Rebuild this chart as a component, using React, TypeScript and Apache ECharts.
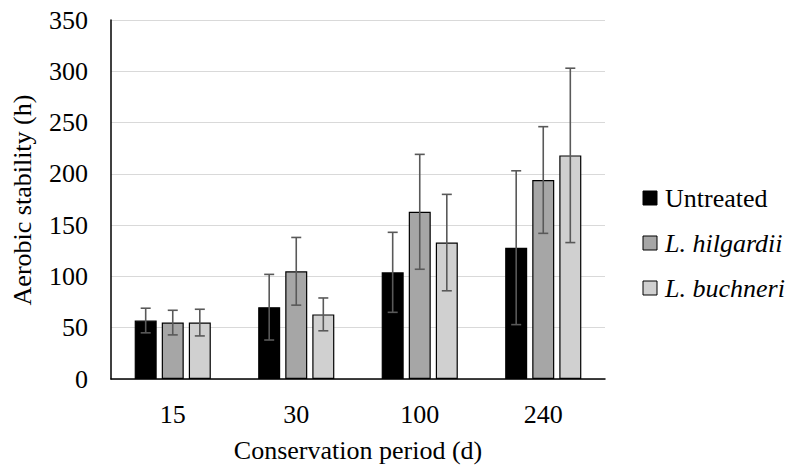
import React, { useEffect, useRef } from "react";
import * as echarts from "echarts";

const categories = ["15", "30", "100", "240"];
const seriesNames = ["Untreated", "L. hilgardii", "L. buchneri"];
const italicNames = [false, true, true];
const untreated = [57, 70, 104, 128];
const untreatedSd = [12, 32, 39, 75];
const hilgardii = [55, 105, 163, 194];
const hilgardiiSd = [12, 33, 56, 52];
const buchneri = [55, 63, 133, 218];
const buchneriSd = [13, 16, 47, 85];
const yTicks = [0, 50, 100, 150, 200, 250, 300, 350];
const xTitle = "Conservation period (d)";
const yTitle = "Aerobic stability (h)";

const colors = ["#000000", "#a6a6a6", "#d0d0d0"];
const FONT = "Liberation Serif";
const FONT_CSS = '26px "Liberation Serif", "Times New Roman", serif';
const FONT_CSS_I = 'italic 26px "Liberation Serif", "Times New Roman", serif';
const BAR_W = 22;
const BAR_GAP = 0.23;

const txt = (extra: any = {}) => ({
  fontFamily: FONT,
  fontSize: 26,
  fontWeight: "normal",
  fontStyle: "normal",
  color: "#000",
  ...extra,
});

export default function App() {
  const ref = useRef<HTMLDivElement>(null);
  useEffect(() => {
    if (!ref.current) return;
    const chart = echarts.init(ref.current, null, { renderer: "svg" });
    const means = [untreated, hilgardii, buchneri];
    const sds = [untreatedSd, hilgardiiSd, buchneriSd];

    const barSeries = seriesNames.map((name, i) => ({
      name,
      type: "bar",
      data: means[i],
      barWidth: BAR_W,
      barGap: BAR_GAP * 100 + "%",
      itemStyle: { color: colors[i], borderColor: "#000", borderWidth: 1.2 },
      z: 2,
    }));

    const errSeries = seriesNames.map((name, i) => ({
      name: name + " err",
      type: "custom",
      z: 5,
      data: categories.map((_, j) => [j, means[i][j] - sds[i][j], means[i][j] + sds[i][j]]),
      renderItem: (params: any, api: any) => {
        const x = api.value(0);
        const lo = api.coord([x, api.value(1)]);
        const hi = api.coord([x, api.value(2)]);
        const off = (i - 1) * BAR_W * (1 + BAR_GAP);
        const cx = lo[0] + off;
        const half = 5;
        const style = { stroke: "#595959", lineWidth: 1.6 };
        return {
          type: "group",
          children: [
            { type: "line", shape: { x1: cx, y1: lo[1], x2: cx, y2: hi[1] }, style },
            { type: "line", shape: { x1: cx - half, y1: lo[1], x2: cx + half, y2: lo[1] }, style },
            { type: "line", shape: { x1: cx - half, y1: hi[1], x2: cx + half, y2: hi[1] }, style },
          ],
        };
      },
      encode: { x: 0, y: [1, 2] },
      silent: true,
    }));

    const legendGraphics: any[] = [];
    seriesNames.forEach((name, i) => {
      const cy = 198 + i * 45;
      legendGraphics.push({
        type: "rect",
        shape: { x: 643, y: cy - 7, width: 14, height: 14 },
        style: { fill: colors[i], stroke: "#000", lineWidth: 1 },
      });
      legendGraphics.push({
        type: "text",
        x: 665,
        y: cy,
        style: {
          text: name,
          font: italicNames[i] ? FONT_CSS_I : FONT_CSS,
          fill: "#000",
          align: "left",
          verticalAlign: "middle",
          textAlign: "left",
          textVerticalAlign: "middle",
        },
      });
    });

    chart.setOption({
      animation: false,
      grid: { left: 111, right: 193, top: 20, bottom: 89 },
      graphic: [
        ...legendGraphics,
        {
          type: "text",
          x: 358,
          y: 450,
          style: {
            text: xTitle,
            font: FONT_CSS,
            fill: "#000",
            align: "center",
            verticalAlign: "middle",
            textAlign: "center",
            textVerticalAlign: "middle",
          },
        },
        {
          type: "text",
          x: 22,
          y: 200,
          rotation: Math.PI / 2,
          style: {
            text: yTitle,
            font: FONT_CSS,
            fill: "#000",
            align: "center",
            verticalAlign: "middle",
            textAlign: "center",
            textVerticalAlign: "middle",
          },
        },
      ],
      xAxis: {
        type: "category",
        data: categories,
        axisLine: { lineStyle: { color: "#000", width: 1.5 } },
        axisTick: { show: false },
        axisLabel: txt({ margin: 22 }),
      },
      yAxis: {
        type: "value",
        min: yTicks[0],
        max: yTicks[yTicks.length - 1],
        interval: 50,
        axisLine: { show: true, lineStyle: { color: "#000", width: 1.5 } },
        axisTick: { show: false },
        axisLabel: txt({ margin: 23 }),
        splitLine: { lineStyle: { color: "#d9d9d9", width: 1.2 } },
      },
      series: [...barSeries, ...errSeries],
    });
    return () => chart.dispose();
  }, []);
  return <div ref={ref} style={{ width: 798, height: 468, position: "absolute", left: 0, top: 0, background: "#fff" }} />;
}
